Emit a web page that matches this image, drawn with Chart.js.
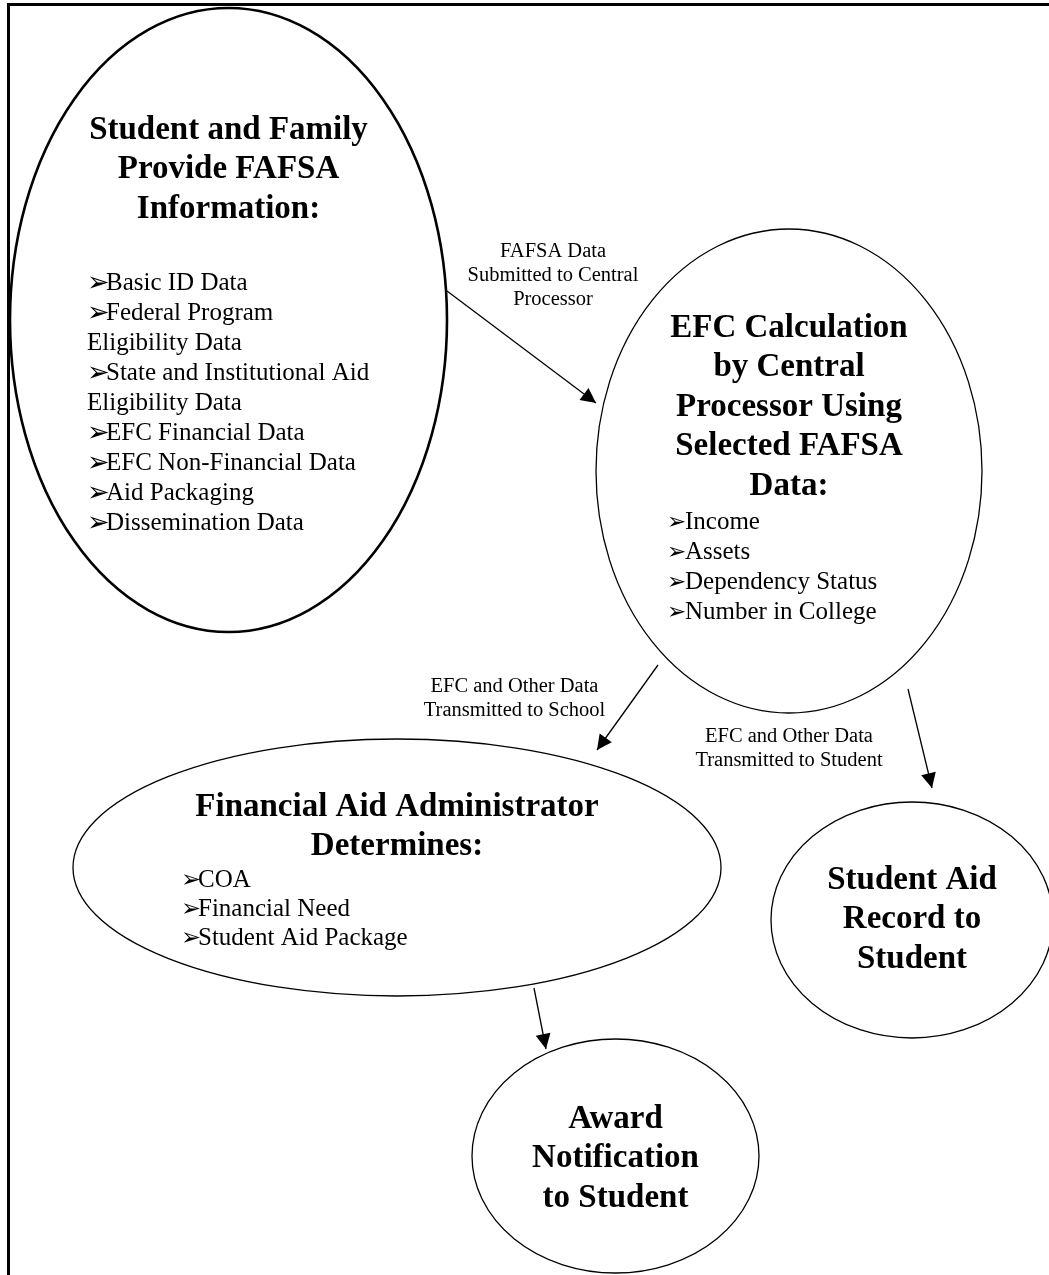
<!DOCTYPE html>
<html>
<head>
<meta charset="utf-8">
<script src="https://cdn.jsdelivr.net/npm/chart.js@4.4.1/dist/chart.umd.min.js"></script>
<style>
  html, body { margin: 0; padding: 0; background: #fff; }
  #wrap { width: 1049px; height: 1275px; }
</style>
</head>
<body>
<div id="wrap"><canvas id="flow" width="1049" height="1275"></canvas></div>
<script>
// nodes of the flow (ellipses)
const nodeTitles = [
  ['Student and Family', 'Provide FAFSA', 'Information:'],
  ['EFC Calculation', 'by Central', 'Processor Using', 'Selected FAFSA', 'Data:'],
  ['Financial Aid Administrator', 'Determines:'],
  ['Student Aid', 'Record to', 'Student'],
  ['Award', 'Notification', 'to Student']
];
const nodeBullets = [
  ['➢Basic ID Data', '➢Federal Program', 'Eligibility Data', '➢State and Institutional Aid',
   'Eligibility Data', '➢EFC Financial Data', '➢EFC Non-Financial Data', '➢Aid Packaging',
   '➢Dissemination Data'],
  ['➢Income', '➢Assets', '➢Dependency Status', '➢Number in College'],
  ['➢COA', '➢Financial Need', '➢Student Aid Package'],
  [],
  []
];
const nodeCx = [228.5, 789, 397, 912, 615.5];
const nodeCy = [320, 471, 867.5, 920, 1156];
const nodeRx = [218.5, 193, 324, 141, 143.5];
const nodeRy = [312, 242, 128.5, 118, 117];
const titleY = [130, 328, 807, 880, 1119];
const bulletX = [87, 667, 181, 0, 0];
const bulletY = [283, 522, 880, 0, 0];

// arrows between nodes
const arrowFromX = [447, 658, 908, 534];
const arrowFromY = [291, 665, 689, 988];
const arrowToX = [596, 597, 932, 546];
const arrowToY = [403, 750, 788, 1049];
const arrowLabels = [
  ['FAFSA Data', 'Submitted to Central', 'Processor'],
  ['EFC and Other Data', 'Transmitted to School'],
  ['EFC and Other Data', 'Transmitted to Student'],
  []
];
const labelX = [553, 514.5, 789, 0];
const labelY = [252, 687, 737, 0];

// page frame (left and top rule)
const frameX = [8.5, 8.5, 1049];
const frameY = [1275, 4.5, 4.5];

const SERIF = "'Liberation Serif', 'Times New Roman', serif";
const bulletFont = [27, 23, 24];
const bulletGap = [19, 18, 17];

const datasets = [{
  label: 'frame',
  data: frameX.map((x, i) => ({x: x, y: frameY[i]})),
  showLine: true, borderColor: '#000', borderWidth: 3, pointRadius: 0, clip: false
}];
arrowFromX.forEach((x, i) => {
  datasets.push({
    label: 'arrow' + i,
    data: [{x: x, y: arrowFromY[i]}, {x: arrowToX[i], y: arrowToY[i]}],
    showLine: true, borderColor: '#000', borderWidth: 1.3, pointRadius: 0, clip: false
  });
});

const flowPlugin = {
  id: 'flow',
  afterDatasetsDraw(chart) {
    const ctx = chart.ctx;
    const sx = chart.scales.x, sy = chart.scales.y;
    ctx.save();
    ctx.fillStyle = '#000';
    ctx.strokeStyle = '#000';

    // arrow heads
    chart.data.datasets.forEach((ds, i) => {
      if (!ds.label.startsWith('arrow')) return;
      const pts = chart.getDatasetMeta(i).data;
      const a = pts[0], b = pts[1];
      const ang = Math.atan2(b.y - a.y, b.x - a.x);
      const len = 15, half = 7.5;
      ctx.beginPath();
      ctx.moveTo(b.x, b.y);
      ctx.lineTo(b.x - len * Math.cos(ang) + half * Math.sin(ang), b.y - len * Math.sin(ang) - half * Math.cos(ang));
      ctx.lineTo(b.x - len * Math.cos(ang) - half * Math.sin(ang), b.y - len * Math.sin(ang) + half * Math.cos(ang));
      ctx.closePath();
      ctx.fill();
    });

    // ellipses
    nodeCx.forEach((cx, i) => {
      const px = sx.getPixelForValue(cx), py = sy.getPixelForValue(nodeCy[i]);
      const rx = Math.abs(sx.getPixelForValue(cx + nodeRx[i]) - px);
      const ry = Math.abs(sy.getPixelForValue(nodeCy[i] + nodeRy[i]) - py);
      ctx.lineWidth = i === 0 ? 2.6 : 1.3;
      ctx.beginPath();
      ctx.ellipse(px, py, rx, ry, 0, 0, Math.PI * 2);
      ctx.stroke();
    });

    // titles
    ctx.textAlign = 'center';
    ctx.textBaseline = 'middle';
    ctx.font = 'bold 33px ' + SERIF;
    nodeTitles.forEach((lines, i) => {
      lines.forEach((t, k) => {
        ctx.fillText(t, sx.getPixelForValue(nodeCx[i]), sy.getPixelForValue(titleY[i] + k * 39.5));
      });
    });

    // bullet lists
    ctx.textAlign = 'left';
    nodeBullets.forEach((lines, i) => {
      const step = i === 2 ? 29 : 30;
      lines.forEach((t, k) => {
        const x = sx.getPixelForValue(bulletX[i]);
        const y = sy.getPixelForValue(bulletY[i] + k * step);
        if (t.startsWith('➢')) {
          ctx.font = bulletFont[i] + "px 'DejaVu Sans'";
          ctx.fillText('➢', x, y + 1);
          ctx.font = '25px ' + SERIF;
          ctx.fillText(t.slice(1), x + bulletGap[i], y);
        } else {
          ctx.font = '25px ' + SERIF;
          ctx.fillText(t, x, y);
        }
      });
    });

    // arrow labels
    ctx.textAlign = 'center';
    ctx.font = '20.5px ' + SERIF;
    arrowLabels.forEach((lines, i) => {
      lines.forEach((t, k) => {
        ctx.fillText(t, sx.getPixelForValue(labelX[i]), sy.getPixelForValue(labelY[i] + k * 24));
      });
    });
    ctx.restore();
  }
};

new Chart(document.getElementById('flow').getContext('2d'), {
  type: 'scatter',
  data: { datasets },
  options: {
    responsive: false,
    animation: false,
    layout: { padding: 0 },
    plugins: { legend: { display: false }, tooltip: { enabled: false } },
    scales: {
      x: { type: 'linear', min: 0, max: 1049, display: false },
      y: { type: 'linear', min: 0, max: 1275, reverse: true, display: false }
    }
  },
  plugins: [flowPlugin]
});
</script>
</body>
</html>
